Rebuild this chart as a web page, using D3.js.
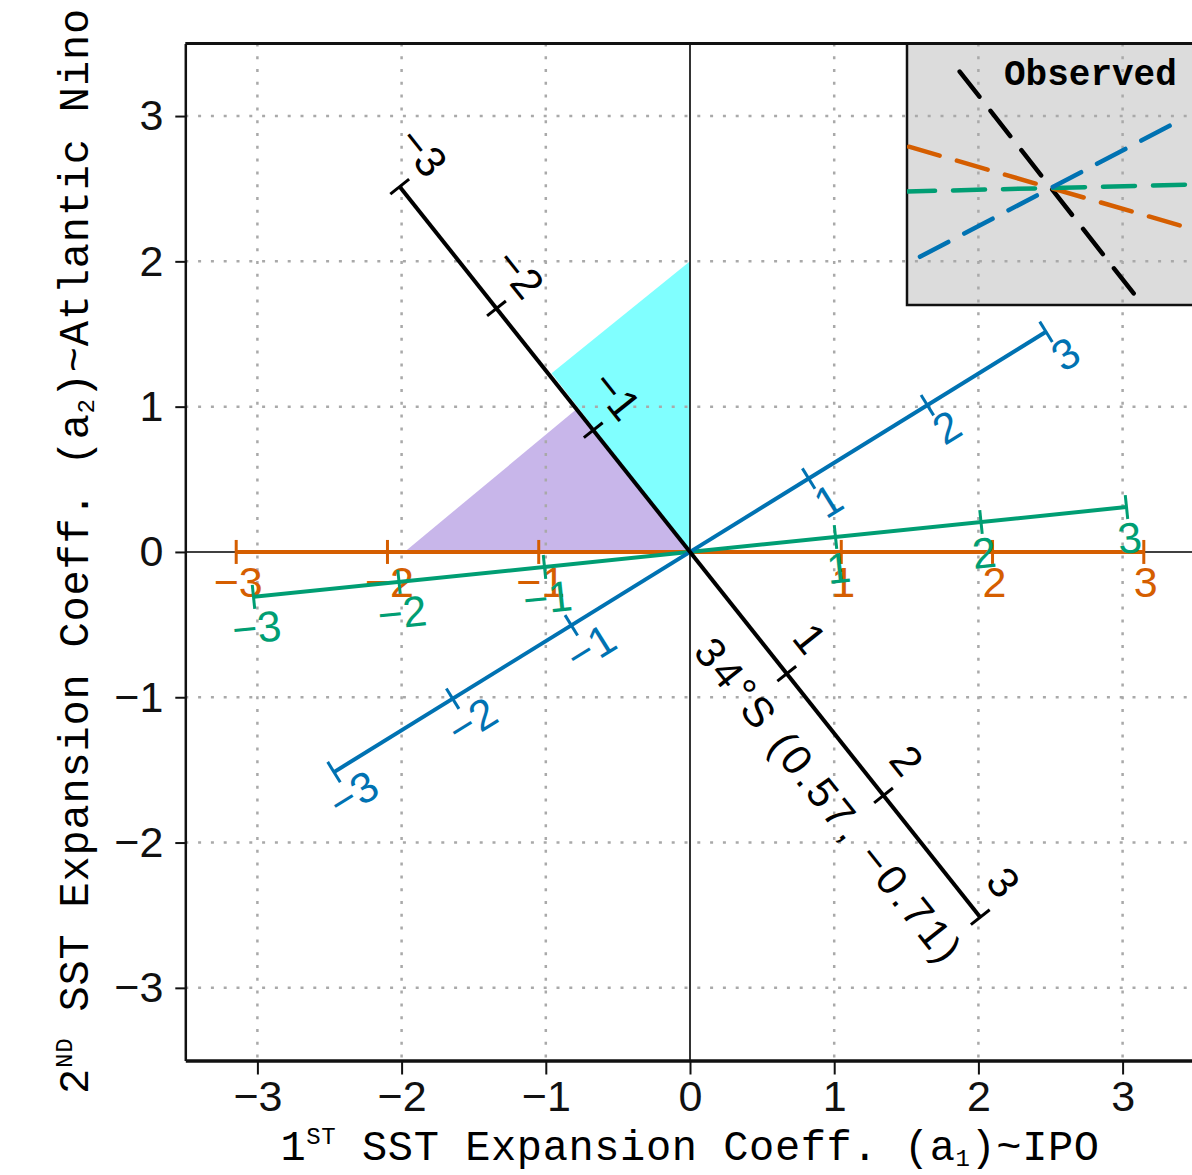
<!DOCTYPE html>
<html>
<head>
<meta charset="utf-8">
<script src="https://cdn.jsdelivr.net/npm/d3@7"></script>
<style>
  body { margin: 0; background: #fff; }
  svg { display: block; }
</style>
</head>
<body>
<script>
var svgWidth = 1192;
var svgHeight = 1175;

// axis tick values
var axisTicks = [-3, -2, -1, 0, 1, 2, 3];
var gridTicks = [-3, -2, -1, 1, 2, 3];
var lineTicks = [-3, -2, -1, 1, 2, 3];

// projected axes: where "1" sits on each line, in (a1, a2) units
var lineNames = ["orange", "green", "blue", "black"];
var unitX = [1.049, 1.009, 0.823, 0.671];
var unitY = [0, 0.103, 0.505, -0.838];
var blackLineLabel = "34°S (0.57, −0.71)";

// shaded sectors
var cyanArea = [[0, 0], [0, 2], [-0.96, 1.23]];
var purpleArea = [[0, 0], [-1.98, 0], [-0.79, 0.98]];

// observed lines in the inset (direction, degrees)
var observedNames = ["black", "orange", "green", "blue"];
var observedAngles = [-51.9, -16.2, 1.4, 27.7];

var colors = { orange: "#d55e00", green: "#009e73", blue: "#0072b2", black: "#000" };
var tickFont = "'Liberation Sans Narrow', 'Liberation Sans', Arial, sans-serif";
var lineFont = "'Liberation Sans', Arial, sans-serif";
var titleFont = "'Liberation Mono', 'DejaVu Sans Mono', monospace";

var svg = d3.select("body")
  .append("svg")
  .attr("width", svgWidth)
  .attr("height", svgHeight);

var x = d3.scaleLinear().domain([-3.5, 3.5]).range([185.3, 1194.7]);
var y = d3.scaleLinear().domain([-3.5, 3.5]).range([1060.5, 43.4]);

var defs = svg.append("defs");
defs.append("clipPath").attr("id", "plotClip")
  .append("rect")
  .attr("x", x(-3.5)).attr("y", y(3.5))
  .attr("width", x(3.5) - x(-3.5)).attr("height", y(-3.5) - y(3.5));

// inset box
var insetLeft = 907, insetBottom = 305;
defs.append("clipPath").attr("id", "insetClip")
  .append("rect")
  .attr("x", insetLeft).attr("y", y(3.5))
  .attr("width", svgWidth - insetLeft + 10).attr("height", insetBottom - y(3.5));

svg.append("rect")
  .attr("x", insetLeft).attr("y", y(3.5))
  .attr("width", svgWidth - insetLeft + 10).attr("height", insetBottom - y(3.5))
  .attr("fill", "#dcdcdc")
  .attr("stroke", "#111")
  .attr("stroke-width", 2.5);

var plot = svg.append("g").attr("clip-path", "url(#plotClip)");

// shaded sectors
var area = d3.line().x(d => x(d[0])).y(d => y(d[1]));
plot.append("path").attr("d", area(purpleArea) + "Z").attr("fill", "#c8b6ea");
plot.append("path").attr("d", area(cyanArea) + "Z").attr("fill", "#80ffff");

// dotted grid
plot.selectAll(".vgrid").data(gridTicks).enter().append("line")
  .attr("x1", d => x(d)).attr("x2", d => x(d))
  .attr("y1", y(3.5)).attr("y2", y(-3.5))
  .attr("stroke", "#a9a9a9").attr("stroke-width", 2.5)
  .attr("stroke-dasharray", "3,9.8");
plot.selectAll(".hgrid").data(gridTicks).enter().append("line")
  .attr("y1", d => y(d)).attr("y2", d => y(d))
  .attr("x1", x(-3.5)).attr("x2", x(3.5))
  .attr("stroke", "#a9a9a9").attr("stroke-width", 2.5)
  .attr("stroke-dasharray", "3,9.8");

// zero lines
plot.append("line").attr("x1", x(0)).attr("x2", x(0)).attr("y1", y(3.5)).attr("y2", y(-3.5))
  .attr("stroke", "#000").attr("stroke-width", 1.6);
plot.append("line").attr("y1", y(0)).attr("y2", y(0)).attr("x1", x(-3.5)).attr("x2", x(3.5))
  .attr("stroke", "#000").attr("stroke-width", 1.6);

// inset lines
var ix = d3.scaleLinear().domain([-1, 1]).range([903, 1199]);
var iy = d3.scaleLinear().domain([-1, 1]).range([336, 40]);
var inset = svg.append("g").attr("clip-path", "url(#insetClip)");
observedNames.forEach(function(name, i) {
  var a = observedAngles[i] * Math.PI / 180;
  inset.append("line")
    .attr("x1", ix(-Math.cos(a))).attr("y1", iy(-Math.sin(a)))
    .attr("x2", ix(Math.cos(a))).attr("y2", iy(Math.sin(a)))
    .attr("stroke", colors[name])
    .attr("stroke-width", 4.5)
    .attr("stroke-linecap", "round")
    .attr("stroke-dasharray", "32,18");
});
svg.append("text")
  .attr("x", 1004).attr("y", 85)
  .style("font-family", titleFont)
  .style("font-weight", "bold")
  .style("font-size", "36px")
  .text("Observed");

// projected axes with ticks and labels
var labelAlong = [2, 0, 5, -13];
var labelPerp = [-30, -31, -29, 40];
var lines = svg.append("g");
lineNames.forEach(function(name, i) {
  var px = t => x(t * unitX[i]);
  var py = t => y(t * unitY[i]);
  var dx = px(1) - px(0), dy = py(1) - py(0);
  var len = Math.sqrt(dx * dx + dy * dy);
  var ux = dx / len, uy = dy / len;
  var nx = uy, ny = -ux; // "up" side of rotated text
  var angle = Math.atan2(uy, ux) * 180 / Math.PI;
  var g = lines.append("g").attr("stroke", colors[name]).attr("fill", colors[name]);

  g.append("line")
    .attr("x1", px(-3)).attr("y1", py(-3))
    .attr("x2", px(3)).attr("y2", py(3))
    .attr("stroke-width", 4);

  g.selectAll(".tk").data(lineTicks).enter().append("line")
    .attr("x1", d => px(d) - 12 * nx).attr("y1", d => py(d) - 12 * ny)
    .attr("x2", d => px(d) + 12 * nx).attr("y2", d => py(d) + 12 * ny)
    .attr("stroke-width", 3);

  g.selectAll(".lb").data(lineTicks).enter().append("text")
    .attr("transform", function(d) {
      var cx = px(d) + labelAlong[i] * ux + labelPerp[i] * nx;
      var cy = py(d) + labelAlong[i] * uy + labelPerp[i] * ny;
      return "translate(" + cx + "," + cy + ") rotate(" + angle + ")";
    })
    .attr("stroke", "none")
    .attr("text-anchor", "middle")
    .attr("dominant-baseline", "central")
    .style("font-family", lineFont)
    .style("font-size", "43px")
    .text(d3.format("d"));

  if (name === "black") {
    var cx = px(1.8) - 46 * nx, cy = py(1.8) - 46 * ny;
    g.append("text")
      .attr("transform", "translate(" + cx + "," + cy + ") rotate(" + angle + ")")
      .attr("stroke", "none")
      .attr("text-anchor", "middle")
      .attr("dominant-baseline", "central")
      .attr("textLength", 400)
      .attr("lengthAdjust", "spacing")
      .style("font-family", lineFont)
      .style("font-size", "42px")
      .text(blackLineLabel);
  }
});

// frame and axes
svg.append("line")
  .attr("x1", x(-3.5)).attr("x2", svgWidth)
  .attr("y1", y(3.5)).attr("y2", y(3.5))
  .attr("stroke", "#111").attr("stroke-width", 3);

var leftAxis = d3.axisLeft(y).tickValues(axisTicks).tickSize(10).tickSizeOuter(0)
  .tickPadding(12).tickFormat(d3.format("d"));
var bottomAxis = d3.axisBottom(x).tickValues(axisTicks).tickSize(14).tickSizeOuter(0)
  .tickPadding(6).tickFormat(d3.format("d"));

var gl = svg.append("g").attr("transform", "translate(" + x(-3.5) + ",0)").call(leftAxis);
var gb = svg.append("g").attr("transform", "translate(0," + y(-3.5) + ")").call(bottomAxis);
[gl, gb].forEach(function(g) {
  g.select(".domain").attr("stroke", "#111").attr("stroke-width", 2.5);
  g.selectAll(".tick line").attr("stroke", "#111").attr("stroke-width", 2);
  g.selectAll(".tick text")
    .attr("fill", "#111")
    .style("font-family", tickFont)
    .style("font-size", "43px");
});
gb.select(".domain").attr("stroke-width", 3.5);

// axis titles
var xTitle = svg.append("text")
  .attr("x", 690).attr("y", 1160)
  .attr("text-anchor", "middle")
  .style("font-family", titleFont)
  .style("font-size", "42px")
  .style("letter-spacing", "0.6px");
xTitle.append("tspan").text("1");
xTitle.append("tspan").attr("dy", -16).style("font-size", "24px").text("ST");
xTitle.append("tspan").attr("dy", 16).text(" SST Expansion Coeff. (a");
xTitle.append("tspan").attr("dy", 6).style("font-size", "24px").text("1");
xTitle.append("tspan").attr("dy", -6).text(")~IPO");

var yTitle = svg.append("text")
  .attr("transform", "translate(88,551) rotate(-90)")
  .attr("text-anchor", "middle")
  .style("font-family", titleFont)
  .style("font-size", "42px")
  .style("letter-spacing", "0.8px");
yTitle.append("tspan").text("2");
yTitle.append("tspan").attr("dy", -16).style("font-size", "24px").text("ND");
yTitle.append("tspan").attr("dy", 16).text(" SST Expansion Coeff. (a");
yTitle.append("tspan").attr("dy", 6).style("font-size", "24px").text("2");
yTitle.append("tspan").attr("dy", -6).text(")~Atlantic Nino");
</script>
</body>
</html>
